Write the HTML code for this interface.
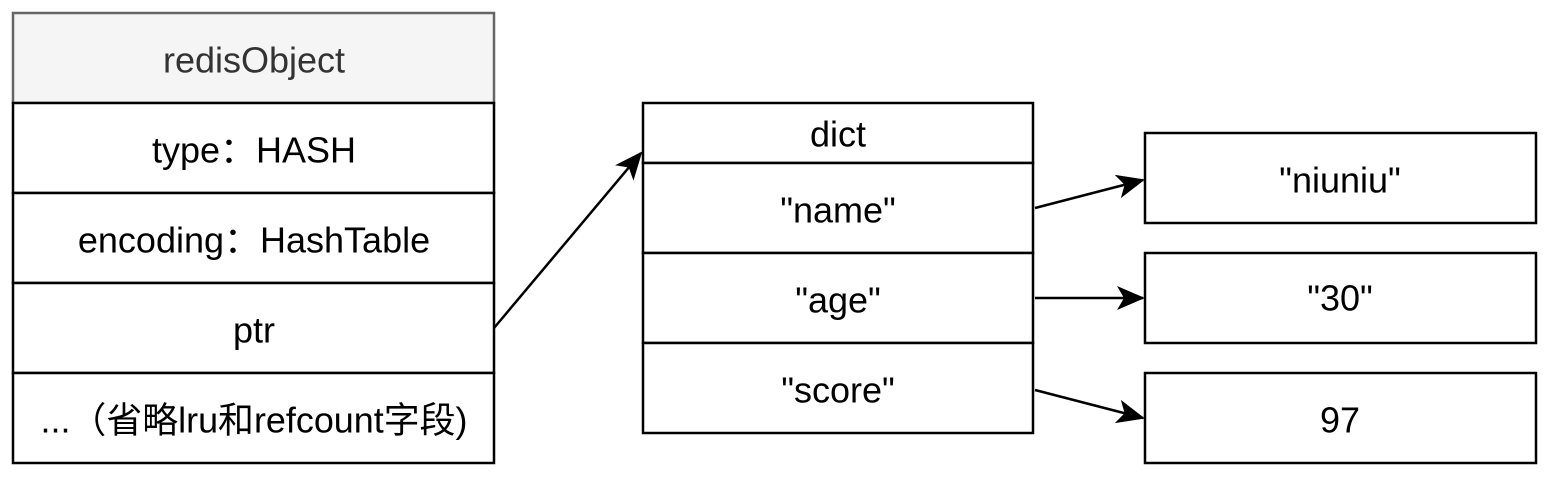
<!DOCTYPE html>
<html><head><meta charset="utf-8"><style>
html,body{margin:0;padding:0;background:#fff;}
svg{display:block}
text{font-family:"Liberation Sans","Noto Sans CJK SC",sans-serif;font-size:36px;fill:#000;text-anchor:middle;dominant-baseline:central}
</style></head><body>
<svg width="1550" height="488" viewBox="0 0 1550 488">
<defs>
<marker id="a" markerWidth="34" markerHeight="34" refX="26" refY="12" orient="auto" markerUnits="userSpaceOnUse">
<path d="M0,0 L28,12 L0,24 L7,12 Z" fill="#000"/>
</marker>
</defs>
<g stroke="#000" stroke-width="2.5" fill="#fff">
<rect x="13" y="13" width="481" height="90" fill="#f5f5f5" stroke="#666"/>
<rect x="13" y="103" width="481" height="90"/>
<rect x="13" y="193" width="481" height="90"/>
<rect x="13" y="283" width="481" height="90"/>
<rect x="13" y="373" width="481" height="90"/>
<rect x="643" y="103" width="390" height="60"/>
<rect x="643" y="163" width="390" height="90"/>
<rect x="643" y="253" width="390" height="90"/>
<rect x="643" y="343" width="390" height="90"/>
<rect x="1145" y="133" width="391" height="90"/>
<rect x="1145" y="253" width="391" height="90"/>
<rect x="1145" y="373" width="391" height="90"/>
</g>
<g stroke="#000" stroke-width="2.5" fill="none" marker-end="url(#a)">
<line x1="494" y1="328" x2="641" y2="153"/>
<line x1="1035" y1="208" x2="1143" y2="180"/>
<line x1="1035" y1="298" x2="1143" y2="298"/>
<line x1="1035" y1="390" x2="1143" y2="418"/>
</g>
<text x="254" y="60" style="fill:#333">redisObject</text>
<text x="254" y="150">type：HASH</text>
<text x="254" y="240">encoding：HashTable</text>
<text x="254" y="330">ptr</text>
<text x="254" y="420" textLength="427" lengthAdjust="spacingAndGlyphs">...（省略lru和refcount字段)</text>
<text x="838" y="134">dict</text>
<text x="838" y="210">"name"</text>
<text x="838" y="300">"age"</text>
<text x="838" y="390">"score"</text>
<text x="1340" y="180">"niuniu"</text>
<text x="1340" y="298">"30"</text>
<text x="1340" y="420">97</text>
</svg>
</body></html>
